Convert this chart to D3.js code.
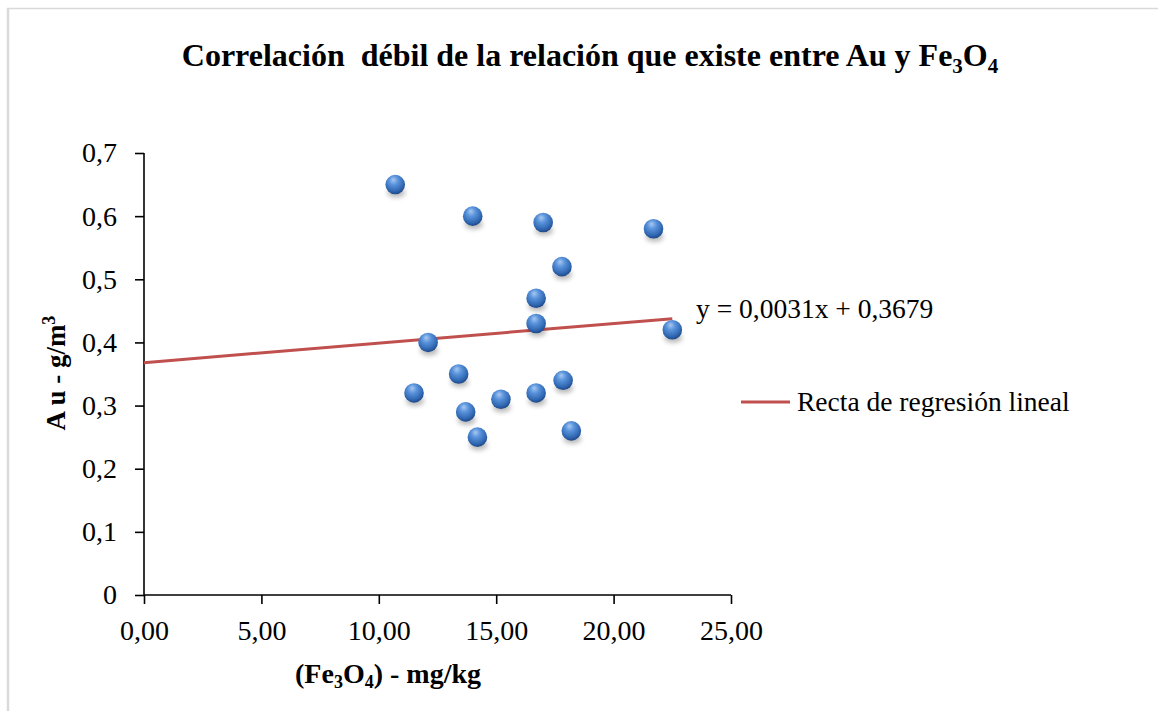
<!DOCTYPE html>
<html>
<head>
<meta charset="utf-8">
<script src="https://cdn.jsdelivr.net/npm/d3@7"></script>
<style>
  html, body { margin: 0; padding: 0; background: #fff; }
  svg { display: block; }
  text { font-family: "Liberation Serif", "Times New Roman", serif; fill: #000; }
</style>
</head>
<body>
<svg id="chart" width="1158" height="711"></svg>
<script>
// ---- data ----
const feValues = [10.7, 14.0, 17.0, 21.7, 17.8, 16.7, 16.7, 22.5, 12.1, 13.4, 11.5, 17.85, 13.7, 15.2, 16.7, 14.2, 18.2];
const auValues = [0.65, 0.60, 0.59, 0.58, 0.52, 0.47, 0.43, 0.42, 0.40, 0.35, 0.32, 0.34, 0.29, 0.31, 0.32, 0.25, 0.26];
const xTicks = [0, 5, 10, 15, 20, 25];
const yTicks = [0, 0.1, 0.2, 0.3, 0.4, 0.5, 0.6, 0.7];
const slope = 0.0031, intercept = 0.3679;
const equationLabel = "y = 0,0031x + 0,3679";
const legendLabel = "Recta de regresión lineal";

const svg = d3.select("#chart");

// border
svg.append("line").attr("x1", 7).attr("x2", 1158).attr("y1", 8.5).attr("y2", 8.5)
  .attr("stroke", "#d9d9d9").attr("stroke-width", 1.5);
svg.append("line").attr("x1", 8).attr("x2", 8).attr("y1", 8).attr("y2", 711)
  .attr("stroke", "#d9d9d9").attr("stroke-width", 2.5);

const x = d3.scaleLinear().domain([0, 25]).range([144, 731]);
const y = d3.scaleLinear().domain([0, 0.7]).range([595, 153]);

const defs = svg.append("defs");
const grad = defs.append("radialGradient").attr("id", "ball")
  .attr("cx", "45%").attr("cy", "35%").attr("r", "65%").attr("fx", "40%").attr("fy", "25%");
grad.append("stop").attr("offset", "0%").attr("stop-color", "#a9c8f0");
grad.append("stop").attr("offset", "35%").attr("stop-color", "#5a94dc");
grad.append("stop").attr("offset", "80%").attr("stop-color", "#2f66b0");
grad.append("stop").attr("offset", "100%").attr("stop-color", "#1d4787");
const shadow = defs.append("filter").attr("id", "shadow").attr("x", "-50%").attr("y", "-50%").attr("width", "200%").attr("height", "200%");
shadow.append("feGaussianBlur").attr("stdDeviation", 2.5);

// title
const title = svg.append("text").attr("x", 590).attr("y", 66).attr("text-anchor", "middle")
  .attr("font-weight", "bold").attr("font-size", 32).style("white-space", "pre");
title.append("tspan").text("Correlación  débil de la relación que existe entre Au y Fe");
title.append("tspan").attr("font-size", 21).attr("dy", 7).text("3");
title.append("tspan").attr("dy", -7).text("O");
title.append("tspan").attr("font-size", 21).attr("dy", 7).text("4");

// axes
const xAxis = d3.axisBottom(x).tickValues(xTicks).tickSize(9)
  .tickFormat(d => d3.format(".2f")(d).replace(".", ","));
const gx = svg.append("g").attr("transform", "translate(0,595)").call(xAxis);
const yAxis = d3.axisLeft(y).tickValues(yTicks).tickSize(9).tickPadding(18)
  .tickFormat(d => d === 0 ? "0" : d3.format(".1f")(d).replace(".", ","));
const gy = svg.append("g").attr("transform", "translate(144,0)").call(yAxis);
[gx, gy].forEach(g => {
  g.select(".domain").attr("stroke", "#000").attr("stroke-width", 1.6);
  g.selectAll(".tick line").attr("stroke", "#000").attr("stroke-width", 1.6);
  g.selectAll(".tick text").attr("font-family", "'Liberation Serif', serif").attr("font-size", 28).attr("fill", "#000");
});
gx.selectAll(".tick text").attr("y", 45).attr("dy", 0);
gx.select(".domain").attr("d", "M144,0H731");
gy.select(".domain").attr("d", "M0,153V595");

// axis titles
const xt = svg.append("text").attr("x", 388).attr("y", 683).attr("text-anchor", "middle")
  .attr("font-weight", "bold").attr("font-size", 28).style("white-space", "pre");
xt.append("tspan").text("(Fe");
xt.append("tspan").attr("font-size", 18).attr("dy", 5).text("3");
xt.append("tspan").attr("dy", -5).text("O");
xt.append("tspan").attr("font-size", 18).attr("dy", 5).text("4");
xt.append("tspan").attr("dy", -5).text(") - mg/kg");

const yt = svg.append("text").attr("transform", "translate(65,373) rotate(-90)").attr("text-anchor", "middle")
  .attr("font-weight", "bold").attr("font-size", 27).style("white-space", "pre");
yt.append("tspan").text("A u - g/m");
yt.append("tspan").attr("font-size", 18).attr("dy", -10).text("3");

// regression line
const xMax = d3.max(feValues);
svg.append("line")
  .attr("x1", x(0)).attr("y1", y(intercept))
  .attr("x2", x(xMax)).attr("y2", y(slope * xMax + intercept))
  .attr("stroke", "#c0504d").attr("stroke-width", 3);

// points
const pts = feValues.map((v, i) => ({ fe: v, au: auValues[i] }));
svg.append("g").selectAll("ellipse").data(pts).join("ellipse")
  .attr("cx", d => x(d.fe) + 1).attr("cy", d => y(d.au) + 8)
  .attr("rx", 9).attr("ry", 5).attr("fill", "#000").attr("opacity", 0.28)
  .attr("filter", "url(#shadow)");
svg.append("g").selectAll("circle").data(pts).join("circle")
  .attr("cx", d => x(d.fe)).attr("cy", d => y(d.au)).attr("r", 9.8)
  .attr("fill", "url(#ball)");

// equation
svg.append("text").attr("x", 696).attr("y", 318).attr("font-size", 27.5).text(equationLabel);

// legend
svg.append("line").attr("x1", 741).attr("x2", 790).attr("y1", 402).attr("y2", 402)
  .attr("stroke", "#c0504d").attr("stroke-width", 3);
svg.append("text").attr("x", 797).attr("y", 411).attr("font-size", 27.5).text(legendLabel);
</script>
</body>
</html>
